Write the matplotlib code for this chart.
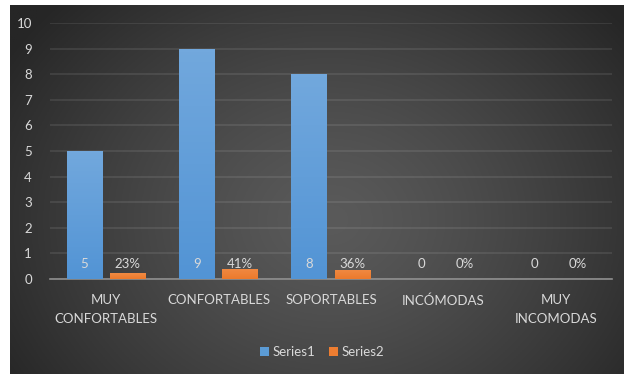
import numpy as np
import matplotlib
matplotlib.use("Agg")
import matplotlib.pyplot as plt
from matplotlib.colors import LinearSegmentedColormap

categories = ["MUY\nCONFORTABLES", "CONFORTABLES", "SOPORTABLES", "INCÓMODAS", "MUY\nINCOMODAS"]
series1 = [5, 9, 8, 0, 0]
series2 = [0.23, 0.41, 0.36, 0.0, 0.0]
series1_labels = ["5", "9", "8", "0", "0"]
series2_labels = ["23%", "41%", "36%", "0%", "0%"]

plt.rcParams["font.family"] = ["Lato", "DejaVu Sans"]
text_color = "#d9d9d9"
blue = "#5b9bd5"
orange = "#ed7d31"


def shade_bars(ax, bars, top, bottom):
    # vertical gradient fill clipped to each bar
    cmap = LinearSegmentedColormap.from_list("g", [bottom, top])
    grad = np.linspace(0, 1, 64).reshape(-1, 1)
    for b in bars:
        h = b.get_height()
        if h <= 0:
            continue
        x0 = b.get_x()
        im = ax.imshow(grad, cmap=cmap, aspect="auto", origin="lower",
                       extent=[x0, x0 + b.get_width(), 0, h], zorder=3)
        im.set_clip_path(b)
        b.set_facecolor("none")


W, H = 624, 374
fig = plt.figure(figsize=(W / 100, H / 100), dpi=100, facecolor="white")

# dark chart area with a soft radial highlight
bg = fig.add_axes([10 / W, 0, (W - 10) / W, (H - 5) / H])
ny, nx = 200, 330
yy, xx = np.mgrid[0:ny, 0:nx]
r = np.sqrt(((xx / nx - 0.52) / 0.62) ** 2 + ((yy / ny - 0.58) / 0.85) ** 2)
r = np.clip(r, 0, 1)
shade = (0x5a - (0x5a - 0x26) * r ** 1.3) / 255.0
bg.imshow(np.dstack([shade, shade, shade]), aspect="auto", extent=[0, 1, 0, 1], origin="upper")
bg.set_axis_off()

ax = fig.add_axes([50 / W, 95 / H, 562 / W, 256 / H])
ax.set_facecolor("none")

x = np.arange(len(categories))
width = 0.32
offset = 0.193
b1 = ax.bar(x - offset, series1, width, color=blue, label="Series1", zorder=3, linewidth=0)
b2 = ax.bar(x + offset, series2, width, color=orange, label="Series2", zorder=3, linewidth=0)

for xi, lab in zip(x, series1_labels):
    ax.annotate(lab, xy=(xi - offset, 0), xytext=(0, 11), textcoords="offset points",
                ha="center", va="center", color=text_color, fontsize=9.5, zorder=4)
for xi, lab in zip(x, series2_labels):
    ax.annotate(lab, xy=(xi + offset, 0), xytext=(0, 11), textcoords="offset points",
                ha="center", va="center", color=text_color, fontsize=9.5, zorder=4)

ax.set_xlim(-0.5, len(categories) - 0.5)
ax.set_ylim(0, 10)
ax.set_yticks(range(0, 11))
ax.yaxis.grid(True, color="#ffffff", alpha=0.1, linewidth=1.2)
ax.set_axisbelow(True)
ax.set_xticks(x)
ax.set_xticklabels(categories, linespacing=1.65)
ax.tick_params(axis="both", length=0, colors=text_color, labelsize=9.5)
ax.tick_params(axis="x", pad=11)
ax.tick_params(axis="y", pad=13)
for side in ["top", "right", "left"]:
    ax.spines[side].set_visible(False)
ax.spines["bottom"].set_color("#8f8f8f")
ax.spines["bottom"].set_linewidth(1.2)

leg = fig.legend(loc="center", bbox_to_anchor=(322 / W, (H - 352) / H), ncol=2, frameon=False,
                 fontsize=9.5, handlelength=0.7, handleheight=0.7, handletextpad=0.3,
                 columnspacing=1.0)
for t in leg.get_texts():
    t.set_color(text_color)

shade_bars(ax, b1, "#72a8dd", "#5294d5")
shade_bars(ax, b2, "#f08a43", "#ec7a2c")

fig.savefig("out.png", dpi=100, facecolor="white")
